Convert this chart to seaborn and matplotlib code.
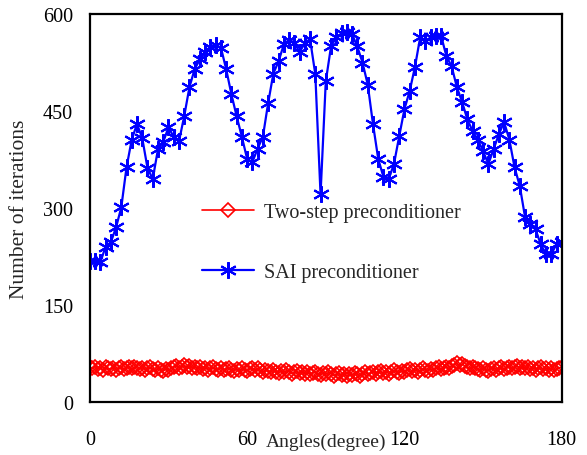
import matplotlib
matplotlib.use("Agg")
import matplotlib.pyplot as plt
import numpy as np
import pandas as pd
import seaborn as sns

# 角度（度）
angles_sai = list(range(0, 181, 2))
angles_two = list(range(0, 181, 1))

# SAI preconditioner の反復回数（2度ごと）
sai_iters = [
    218, 218, 216, 240, 247, 270, 301, 363, 406, 430,
    408, 362, 345, 391, 402, 425, 410, 403, 442, 487,
    515, 530, 541, 549, 552, 548, 515, 476, 442, 410,
    376, 371, 392, 410, 462, 508, 527, 553, 560, 556,
    541, 555, 561, 507, 321, 496, 550, 564, 570, 573,
    569, 550, 525, 491, 430, 376, 348, 345, 368, 411,
    453, 481, 518, 564, 558, 564, 566, 566, 535, 519,
    487, 464, 437, 419, 406, 388, 368, 391, 414, 433,
    406, 363, 334, 286, 275, 267, 244, 229, 229, 244,
    248,
]

# Two-step preconditioner の反復回数（1度ごと）
two_step_iters = [
    54, 52, 55, 51, 53, 50, 54, 52, 51, 53,
    50, 52, 54, 51, 53, 55, 52, 54, 53, 51,
    53, 50, 52, 54, 51, 49, 52, 50, 48, 51,
    49, 52, 54, 56, 53, 55, 57, 54, 56, 53,
    55, 52, 54, 51, 53, 50, 52, 54, 51, 50,
    52, 49, 51, 53, 50, 48, 51, 49, 52, 50,
    48, 51, 53, 50, 52, 49, 47, 50, 48, 46,
    49, 47, 45, 48, 46, 49, 47, 44, 46, 48,
    45, 47, 44, 46, 43, 45, 47, 44, 42, 45,
    43, 46, 44, 41, 43, 45, 42, 44, 41, 43,
    42, 45, 43, 40, 44, 46, 43, 45, 47, 44,
    46, 48, 45, 47, 44, 46, 49, 47, 45, 48,
    46, 49, 51, 48, 50, 47, 49, 52, 50, 48,
    51, 49, 52, 54, 51, 53, 55, 52, 56, 58,
    60, 57, 59, 56, 54, 52, 55, 53, 51, 49,
    52, 50, 48, 51, 53, 50, 52, 54, 51, 53,
    55, 52, 54, 56, 53, 55, 52, 54, 51, 53,
    50, 52, 54, 51, 53, 50, 52, 49, 51, 53,
    54,
]

x_ticks = [0, 60, 120, 180]
y_ticks = [0, 150, 300, 450, 600]

sns.set_style("white")
plt.rcParams['font.family'] = ['Liberation Serif', 'DejaVu Serif']
plt.rcParams['font.size'] = 14

df_two = pd.DataFrame({'angle': angles_two, 'iters': two_step_iters})
df_sai = pd.DataFrame({'angle': angles_sai, 'iters': sai_iters})

fig = plt.figure(figsize=(5.87, 4.56), dpi=100)
ax = fig.add_axes([0.153, 0.116, 0.804, 0.851])

sns.lineplot(data=df_two, x='angle', y='iters', ax=ax, color='red',
             marker='D', markersize=7, markerfacecolor='none',
             markeredgecolor='red', markeredgewidth=1.2, linewidth=1.2,
             label='Two-step preconditioner')
sns.lineplot(data=df_sai, x='angle', y='iters', ax=ax, color='blue',
             marker=(6, 2, 0), markersize=12, markeredgecolor='blue',
             markeredgewidth=1.5, linewidth=1.6,
             label='SAI preconditioner')

ax.set_xlim(0, 180)
ax.set_ylim(0, 600)
ax.set_xticks(x_ticks)
ax.set_yticks(y_ticks)
ax.tick_params(axis='both', direction='in', length=5, width=1,
               labelsize=14.5, colors='black')
ax.tick_params(axis='x', pad=20)
ax.tick_params(axis='y', pad=12)

for s in ax.spines.values():
    s.set_color('black')
    s.set_linewidth(1.6)

ax.set_xlabel('Angles(degree)', fontsize=14)
ax.xaxis.set_label_coords(0.5, -0.08)
ax.set_ylabel('Number of iterations', fontsize=15.5, labelpad=10)

leg = ax.legend(loc='center left', bbox_to_anchor=(0.238, 0.412),
                frameon=False, fontsize=14.5, handlelength=2.6,
                handletextpad=0.45, labelspacing=2.05, borderpad=0,
                borderaxespad=0)

fig.savefig('out.png', dpi=100)
